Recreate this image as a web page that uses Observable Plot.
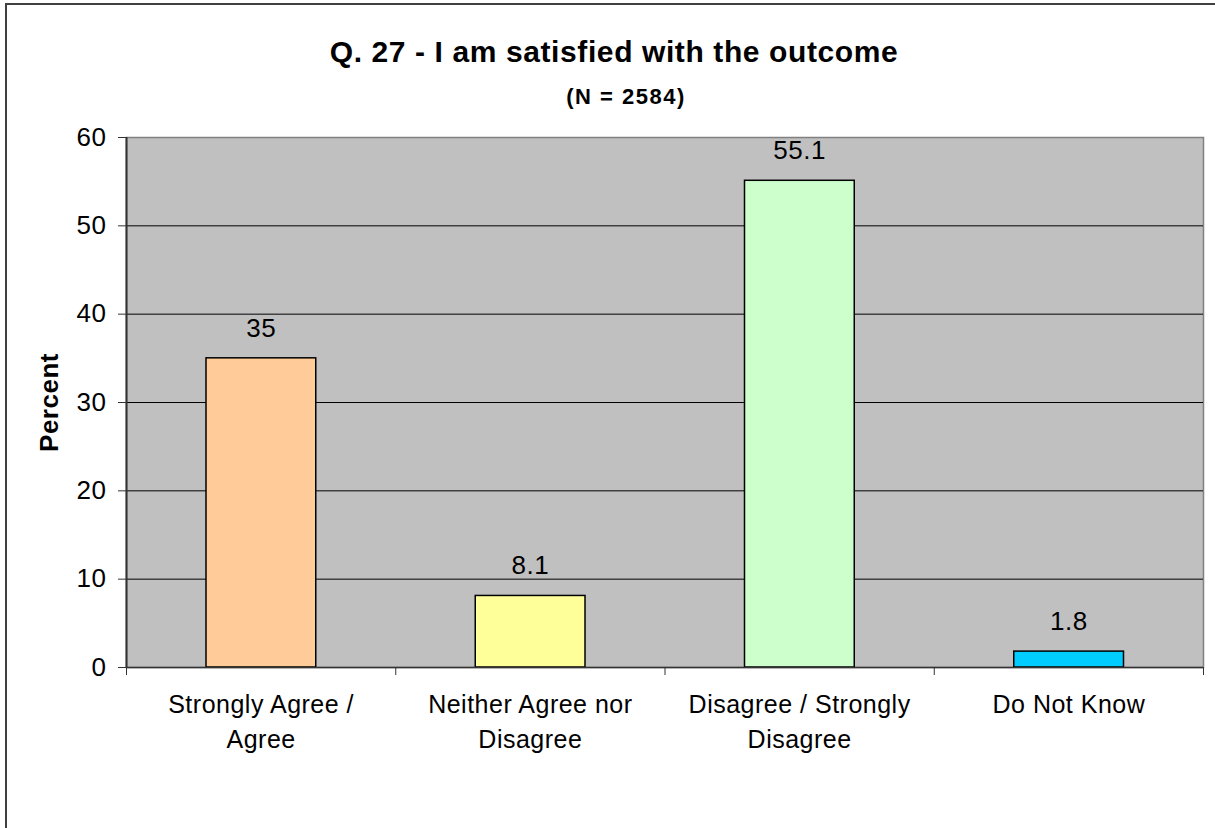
<!DOCTYPE html>
<html>
<head>
<meta charset="utf-8">
<script src="https://cdn.jsdelivr.net/npm/d3@7"></script>
<script src="https://cdn.jsdelivr.net/npm/@observablehq/plot@0.6"></script>
<style>
  html, body { margin: 0; padding: 0; background: #fff; }
  body { width: 1215px; height: 828px; position: relative; overflow: hidden; font-family: "Liberation Sans", Arial, sans-serif; }
  #border { position: absolute; left: 5px; top: 3px; width: 1300px; height: 900px; border-left: 2px solid #404040; border-top: 2px solid #404040; pointer-events: none; }
  .title { position: absolute; left: 614px; top: 37px; transform: translateX(-50%); font-size: 30px; letter-spacing: 0.6px; font-weight: bold; line-height: 1; white-space: nowrap; color: #000; }
  .subtitle { position: absolute; left: 626px; top: 86px; transform: translateX(-50%); font-size: 22px; letter-spacing: 1.5px; font-weight: bold; line-height: 1; white-space: nowrap; color: #000; }
  #chart { position: absolute; left: 0; top: 120px; }
  #chart text { letter-spacing: 0.5px; }
</style>
</head>
<body>
<div class="title">Q. 27 - I am satisfied with the outcome</div>
<div class="subtitle">(N = 2584)</div>
<div id="chart"></div>
<div id="border"></div>
<script>
const categories = ["Strongly Agree /\nAgree", "Neither Agree nor\nDisagree", "Disagree / Strongly\nDisagree", "Do Not Know"];
const values = [35, 8.1, 55.1, 1.8];
const colors = ["#ffcc99", "#ffff99", "#ccffcc", "#00ccff"];
const yTicks = [0, 10, 20, 30, 40, 50, 60];
const gridLines = [10, 20, 30, 40, 50];

const data = categories.map((c, i) => ({i, label: c, value: values[i], color: colors[i]}));
const boundaries = d3.range(0, categories.length + 1);

const chart = Plot.plot({
  width: 1215,
  height: 708,
  marginLeft: 126,
  marginRight: 12,
  marginTop: 17,
  marginBottom: 161,
  style: {fontFamily: "Liberation Sans, Arial, sans-serif", background: "transparent", color: "#000"},
  x: {type: "linear", domain: [0, categories.length], axis: null},
  y: {domain: [0, 60], axis: null},
  marks: [
    Plot.frame({fill: "#c0c0c0", stroke: "#808080", strokeWidth: 1.5}),
    Plot.ruleY(gridLines, {stroke: "#000", strokeWidth: 1}),
    Plot.rectY(data, {x1: "i", x2: d => d.i + 1, y: "value", fill: "color", stroke: "#000", strokeWidth: 1.5, insetLeft: 80, insetRight: 79.5}),
    Plot.ruleX([0], {stroke: "#333", strokeWidth: 2}),
    Plot.ruleY([0], {stroke: "#333", strokeWidth: 1.5}),
    Plot.axisY({ticks: yTicks, tickSize: 8, tickPadding: 12, fontSize: 26, stroke: "#333", label: null}),
    Plot.axisX({ticks: boundaries, tickSize: 8, tickFormat: () => "", stroke: "#333", label: null}),
    Plot.text(data, {x: d => d.i + 0.5, y: "value", text: d => String(d.value), dy: -30, fontSize: 26, fill: "#000"}),
    Plot.text(data, {x: d => d.i + 0.5, text: "label", frameAnchor: "bottom", lineAnchor: "top", dy: 21, lineHeight: 1.4, fontSize: 25, fill: "#000"}),
    Plot.text(["Percent"], {frameAnchor: "left", textAnchor: "middle", rotate: -90, dx: -77, fontSize: 26, fontWeight: "bold", fill: "#000"})
  ]
});
document.getElementById("chart").appendChild(chart);
</script>
</body>
</html>
